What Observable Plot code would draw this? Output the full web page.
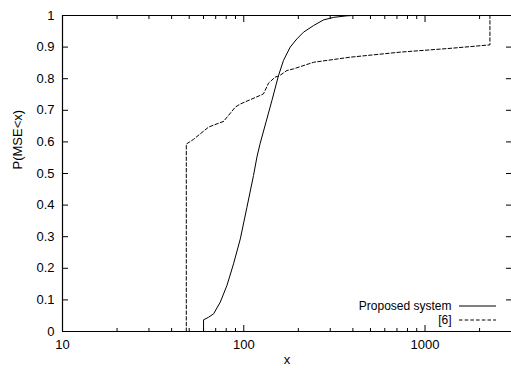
<!DOCTYPE html>
<html>
<head>
<meta charset="utf-8">
<script src="https://cdn.jsdelivr.net/npm/d3@7"></script>
<script src="https://cdn.jsdelivr.net/npm/@observablehq/plot@0.6"></script>
<style>
  html, body { margin: 0; padding: 0; background: #fff; }
  #chart { position: relative; width: 511px; height: 368px; overflow: hidden; }
  svg { font-family: "Liberation Sans", Arial, Helvetica, sans-serif; }
</style>
</head>
<body>
<div id="chart"></div>
<script>
// ---- data ----
const proposedX = [60, 60, 63.9, 68.2, 74.2, 80.8, 87.8, 95.7, 104.1, 113.2, 118.2, 123, 133, 143, 155.5, 165.7, 180.4, 196.4, 213.5, 242.4, 275.3, 312.5, 370.3, 400];
const proposedY = [0, 0.037, 0.045, 0.056, 0.093, 0.146, 0.214, 0.293, 0.393, 0.494, 0.552, 0.594, 0.665, 0.731, 0.810, 0.858, 0.900, 0.926, 0.947, 0.968, 0.986, 0.994, 0.999, 1];

const refX = [48.2, 48.2, 52.8, 64, 77.4, 89.8, 95.7, 110, 123, 128.5, 137, 149, 158, 173, 188, 243, 386, 728, 1374, 2281, 2281];
const refY = [0, 0.593, 0.608, 0.647, 0.665, 0.710, 0.720, 0.735, 0.747, 0.752, 0.786, 0.805, 0.810, 0.826, 0.831, 0.852, 0.868, 0.884, 0.896, 0.907, 1];

const seriesNames = ["Proposed system", "[6]"];

const xDomain = [10, 3000];
const yDomain = [0, 1];
const xMajorTicks = [10, 100, 1000];
const xMinorTicks = [20, 30, 40, 50, 60, 70, 80, 90, 200, 300, 400, 500, 600, 700, 800, 900, 2000];
const yTicks = [0, 0.1, 0.2, 0.3, 0.4, 0.5, 0.6, 0.7, 0.8, 0.9, 1];
const yTickLabels = ["0", "0.1", "0.2", "0.3", "0.4", "0.5", "0.6", "0.7", "0.8", "0.9", "1"];
const xTitle = "x";
const yTitle = "P(MSE<x)";

// ---- build tables ----
const proposed = proposedX.map((x, i) => ({x, y: proposedY[i]}));
const ref6 = refX.map((x, i) => ({x, y: refY[i]}));

const FS = 13;
const LFS = 12;
const dash = "3.5,2.2";

const plot = Plot.plot({
  width: 511,
  height: 368,
  marginLeft: 62,
  marginRight: 0,
  marginTop: 15,
  marginBottom: 37,
  style: {fontFamily: '"Liberation Sans", Arial, Helvetica, sans-serif', fontSize: FS + "px", color: "#000", background: "#fff"},
  x: {type: "log", domain: xDomain},
  y: {domain: yDomain},
  marks: [
    // border (left, bottom, top)
    Plot.ruleX([xDomain[0]], {stroke: "#000", strokeWidth: 1.2}),
    Plot.ruleY(yDomain, {stroke: "#000", strokeWidth: 1.2}),
    // bottom axis
    Plot.axisX(xMajorTicks, {anchor: "bottom", tickSize: -6, tickPadding: 14, tickFormat: d => String(d), label: null, fontSize: FS}),
    Plot.axisX(xMinorTicks, {anchor: "bottom", tickSize: -3, fill: "none", label: null}),
    // top mirror ticks
    Plot.axisX(xMajorTicks, {anchor: "top", tickSize: -6, fill: "none", label: null}),
    Plot.axisX(xMinorTicks, {anchor: "top", tickSize: -3, fill: "none", label: null}),
    // left axis
    Plot.axisY(yTicks, {anchor: "left", tickSize: -6, tickPadding: 14, tickFormat: (d, i) => yTickLabels[i], label: null, fontSize: FS}),
    // right mirror ticks
    Plot.axisY(yTicks, {anchor: "right", tickSize: -6, fill: "none", label: null}),
    // data
    Plot.line(ref6, {x: "x", y: "y", stroke: "#000", strokeWidth: 1, strokeDasharray: dash}),
    Plot.line(proposed, {x: "x", y: "y", stroke: "#000", strokeWidth: 1}),
    // axis titles
    Plot.text([xTitle], {frameAnchor: "bottom", dy: 32, fontSize: FS}),
    Plot.text([yTitle], {frameAnchor: "left", dx: -45, dy: -4, rotate: -90, fontSize: FS})
  ]
});

document.getElementById("chart").appendChild(plot);

// ---- legend (inside plot, bottom-right) ----
const svg = d3.select(plot);
const lg = svg.append("g").attr("class", "legend")
  .attr("font-family", '"Liberation Sans", Arial, Helvetica, sans-serif')
  .attr("font-size", LFS);
const rows = [{name: seriesNames[0], y: 306, dash: null}, {name: seriesNames[1], y: 320, dash: dash}];
rows.forEach(r => {
  lg.append("text").attr("x", 451.5).attr("y", r.y).attr("dy", "0.35em")
    .attr("text-anchor", "end").attr("fill", "#000").text(r.name);
  const ln = lg.append("line").attr("x1", 459).attr("x2", 496).attr("y1", r.y).attr("y2", r.y)
    .attr("stroke", "#000").attr("stroke-width", 1);
  if (r.dash) ln.attr("stroke-dasharray", r.dash);
});
</script>
</body>
</html>
